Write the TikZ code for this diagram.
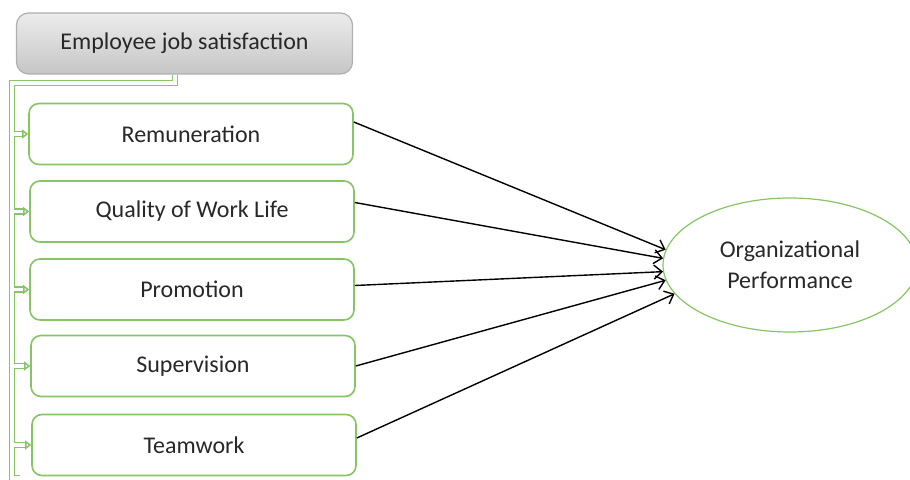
\documentclass[tikz,border=0pt]{standalone}
\usepackage{fontspec}
\setmainfont{Carlito}
\usetikzlibrary{arrows.meta,shapes.geometric}
\definecolor{boxgreen}{RGB}{135,196,100}
\definecolor{headgray}{RGB}{175,175,175}
\definecolor{inkgray}{RGB}{40,40,40}
\tikzset{
	factor/.style={draw=boxgreen, line width=0.8pt, rounded corners=5pt, fill=white, text=inkgray,
		minimum width=162pt, minimum height=30.5pt, font=\fontsize{12}{14}\selectfont},
	header/.style={draw=headgray, line width=0.6pt, rounded corners=6pt, text=inkgray,
		top color=gray!15, bottom color=gray!45,
		minimum width=168pt, minimum height=30.5pt, font=\fontsize{12}{14}\selectfont},
	outcome/.style={ellipse, draw=boxgreen, line width=0.6pt, align=center, text=inkgray,
		minimum width=127pt, minimum height=67pt, font=\fontsize{12}{15.5}\selectfont},
	bracket/.style={draw=boxgreen, double=white, double distance=1.8pt, line width=0.75pt},
	feed/.style={bracket, -{Triangle[open,length=3pt,width=4.5pt]}},
	cause/.style={-{Straight Barb[length=4pt,width=7pt]}, line width=0.7pt}
}
\begin{document}
\begin{tikzpicture}[x=0.5pt, y=-0.5pt]
	\useasboundingbox (0,0) rectangle (910,480);
	% factors of job satisfaction
	\node[header] (ejs) at (184.5,43.5) {Employee job satisfaction};
	\node[factor] (remun) at (191,134) {Remuneration};
	\node[factor] (qwl) at (192,211.5) {Quality of Work Life};
	\node[factor] (promo) at (192,289.5) {Promotion};
	\node[factor] (superv) at (193,366) {Supervision};
	\node[factor] (team) at (194,445) {Teamwork};
	\node[outcome] (orgperf) at (790,265) {Organizational\\Performance};
	% elbow bracket on the left
	\coordinate (elbow) at (175,83);
	\coordinate (barTop) at (12,83);
	\coordinate (barEnd) at (12,478);
	\draw[bracket] (ejs.south -| elbow) -- (elbow) -- (barTop) -- (barEnd) -- ++(8,0);
	\foreach \f in {remun,qwl,promo,superv,team}
		\draw[feed] (\f.west -| barTop) ++(2,0) -- (\f.west);
	% effects on performance
	\draw[cause] ([yshift=6pt]remun.east) -- (orgperf.173);
	\draw[cause] ([yshift=4.5pt]qwl.east) -- (orgperf.177);
	\draw[cause] ([yshift=2pt]promo.east) -- (orgperf.183);
	\draw[cause] (superv.east) -- (orgperf.187);
	\draw[cause] ([yshift=3.5pt]team.east) -- (orgperf.194);
\end{tikzpicture}
\end{document}
